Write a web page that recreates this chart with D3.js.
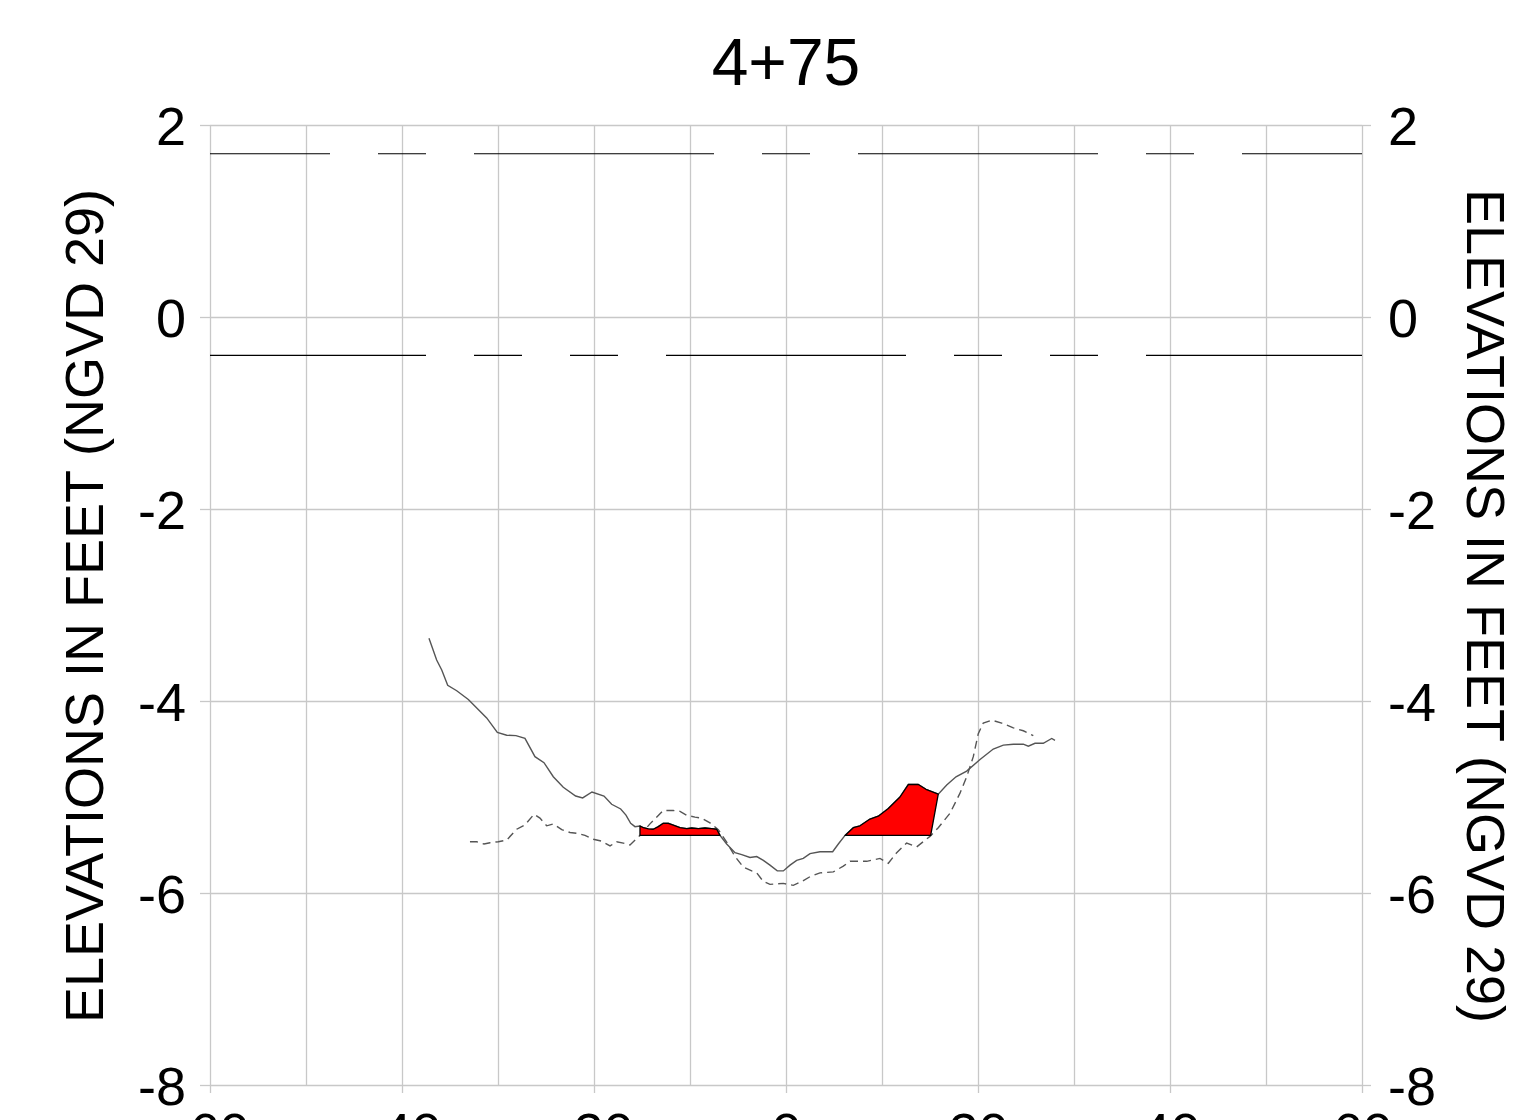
<!DOCTYPE html>
<html>
<head>
<meta charset="utf-8">
<script src="https://cdn.jsdelivr.net/npm/d3@7"></script>
<style>
  html, body { margin: 0; padding: 0; background: #fff; }
  svg { display: block; font-family: "Liberation Sans", Arial, sans-serif; }
</style>
</head>
<body>
<svg id="chart" width="1536" height="1120"></svg>
<script>
// ---- data ----
const titleText = "4+75";
const yTitle = "ELEVATIONS IN FEET (NGVD 29)";
const xTicks = [-60, -40, -20, 0, 20, 40, 60];
const xGrid = [-60, -50, -40, -30, -20, -10, 0, 10, 20, 30, 40, 50, 60];
const yTicks = [-8, -6, -4, -2, 0, 2];
const upperWaterLevel = 1.7;
const lowerWaterLevel = -0.4;
const templateGrade = -5.4;

// existing surface (solid)
const surveyX = [-37.19,-36.39,-35.86,-35.24,-34.30,-33.09,-31.18,-30.07,-29.09,-28.13,-27.19,-26.15,-25.21,-24.24,-23.20,-21.91,-21.18,-20.21,-18.96,-18.16,-17.22,-16.67,-16.18,-15.73,-15.21,-14.86,-14.34,-13.82,-13.30,-12.78,-12.26,-11.74,-11.04,-10.34,-9.82,-9.14,-8.44,-7.74,-7.22,-6.875,-6.18,-5.31,-4.61,-3.75,-3.05,-2.36,-1.67,-0.91,-0.28,0.42,1.11,1.80,2.50,3.54,4.86,5.45,6.15,7.01,7.71,8.75,9.61,10.66,11.875,12.74,13.78,14.58,15.86,16.74,17.71,18.82,20.21,21.59,22.64,23.68,24.72,25.24,25.94,26.80,27.68,28.02];
const surveyY = [-3.347,-3.573,-3.677,-3.836,-3.893,-3.984,-4.176,-4.328,-4.357,-4.361,-4.389,-4.580,-4.643,-4.789,-4.899,-4.990,-5.010,-4.948,-4.990,-5.076,-5.125,-5.188,-5.274,-5.309,-5.302,-5.320,-5.333,-5.336,-5.309,-5.274,-5.274,-5.292,-5.320,-5.330,-5.323,-5.330,-5.323,-5.330,-5.336,-5.40,-5.49,-5.58,-5.60,-5.63,-5.62,-5.66,-5.71,-5.77,-5.77,-5.71,-5.66,-5.64,-5.59,-5.57,-5.57,-5.49,-5.40,-5.32,-5.30,-5.23,-5.20,-5.12,-5.00,-4.87,-4.87,-4.92,-4.97,-4.875,-4.79,-4.73,-4.61,-4.50,-4.46,-4.45,-4.45,-4.47,-4.44,-4.44,-4.39,-4.41];

// previous surface (dashed)
const priorX = [-32.92,-32.22,-31.46,-30.83,-29.97,-29.09,-28.05,-27.19,-26.25,-25.63,-24.93,-24.24,-23.36,-22.50,-21.64,-20.94,-20.07,-19.20,-18.33,-17.64,-16.95,-16.25,-15.21,-14.17,-12.78,-11.74,-11.04,-10.34,-9.48,-8.78,-7.92,-7.05,-6.18,-5.31,-4.45,-3.57,-3.05,-2.36,-1.67,-0.28,0.76,1.64,2.50,3.54,4.93,5.97,6.67,8.41,9.79,10.66,11.53,12.57,13.61,15.00,15.86,17.08,18.125,18.82,19.51,20.03,20.55,21.43,22.47,23.68,24.72,25.76];
const priorY = [-5.466,-5.466,-5.49,-5.476,-5.466,-5.448,-5.336,-5.29,-5.18,-5.22,-5.30,-5.28,-5.34,-5.37,-5.38,-5.40,-5.44,-5.46,-5.51,-5.466,-5.48,-5.50,-5.40,-5.28,-5.14,-5.14,-5.15,-5.19,-5.21,-5.22,-5.27,-5.34,-5.47,-5.62,-5.73,-5.77,-5.79,-5.88,-5.91,-5.90,-5.92,-5.88,-5.83,-5.79,-5.78,-5.72,-5.67,-5.67,-5.64,-5.69,-5.58,-5.48,-5.52,-5.41,-5.32,-5.17,-4.96,-4.79,-4.58,-4.34,-4.23,-4.20,-4.23,-4.28,-4.31,-4.36];

// shoal areas above template grade: [start x, end x on surface, toe x at grade]
const shoalStart = [-15.21, 6.15];
const shoalEnd = [-6.875, 15.86];
const shoalToe = [-6.875, 15.07];

// ---- layout ----
const svg = d3.select("#chart");
const x = d3.scaleLinear().domain([-60, 60]).range([210, 1362]);
const y = d3.scaleLinear().domain([-8, 2]).range([1085, 125]);
const gridColor = "#c8c8c8";
const fontSize = 54;
const fmt = d => String(d);
const FONT = "Liberation Sans, Arial, sans-serif";

// vertical grid
const gx = svg.append("g").attr("transform", `translate(0,${y(-8)})`)
  .call(d3.axisBottom(x).tickValues(xGrid).tickSize(-(y(-8) - y(2))).tickFormat(""));
gx.select(".domain").remove();
gx.selectAll("line").attr("stroke", gridColor).attr("stroke-width", 1.3);

// horizontal grid
const gy = svg.append("g").attr("transform", `translate(${x(-60)},0)`)
  .call(d3.axisLeft(y).tickValues(yTicks).tickSize(-(x(60) - x(-60))).tickFormat(""));
gy.select(".domain").remove();
gy.selectAll("line").attr("stroke", gridColor).attr("stroke-width", 1.3);

// left axis labels
const la = svg.append("g").attr("transform", `translate(${x(-60)},0)`)
  .call(d3.axisLeft(y).tickValues(yTicks).tickSize(10).tickPadding(14).tickFormat(fmt));
la.select(".domain").remove();
la.selectAll("line").attr("stroke", gridColor).attr("stroke-width", 1.3);
la.selectAll("text").attr("font-size", fontSize).attr("fill", "#000").attr("dy", "0.37em")
  .attr("font-family", FONT);

// right axis labels
const ra = svg.append("g").attr("transform", `translate(${x(60)},0)`)
  .call(d3.axisRight(y).tickValues(yTicks).tickSize(9).tickPadding(17).tickFormat(fmt));
ra.select(".domain").remove();
ra.selectAll("line").attr("stroke", gridColor).attr("stroke-width", 1.3);
ra.selectAll("text").attr("font-size", fontSize).attr("fill", "#000").attr("dy", "0.37em")
  .attr("font-family", FONT);

// bottom axis labels
const ba = svg.append("g").attr("transform", `translate(0,${y(-8)})`)
  .call(d3.axisBottom(x).tickValues(xTicks).tickSize(8).tickPadding(20).tickFormat(fmt));
ba.select(".domain").remove();
ba.selectAll("line").attr("stroke", gridColor).attr("stroke-width", 1.3);
ba.selectAll("text").attr("font-size", fontSize).attr("fill", "#000")
  .attr("font-family", FONT);

// water level lines
svg.append("line")
  .attr("x1", x(-60)).attr("x2", x(60)).attr("y1", y(upperWaterLevel)).attr("y2", y(upperWaterLevel))
  .attr("stroke", "#000").attr("stroke-width", 1.1)
  .attr("stroke-dasharray", "240,48,48,48").attr("stroke-dashoffset", 120);
svg.append("line")
  .attr("x1", x(-60)).attr("x2", x(60)).attr("y1", y(lowerWaterLevel)).attr("y2", y(lowerWaterLevel))
  .attr("stroke", "#000").attr("stroke-width", 1.1)
  .attr("stroke-dasharray", "240,48,48,48,48,48").attr("stroke-dashoffset", 24);

const line = d3.line().x(d => x(d[0])).y(d => y(d[1]));
const survey = surveyX.map((v, i) => [v, surveyY[i]]);
const prior = priorX.map((v, i) => [v, priorY[i]]);

svg.append("path").datum(prior).attr("d", line)
  .attr("fill", "none").attr("stroke", "#555").attr("stroke-width", 1.4)
  .attr("stroke-dasharray", "8,5");
svg.append("path").datum(survey).attr("d", line)
  .attr("fill", "none").attr("stroke", "#555").attr("stroke-width", 1.4);

// shoal polygons
shoalStart.forEach((s, i) => {
  const pts = survey.filter(p => p[0] >= s - 1e-6 && p[0] <= shoalEnd[i] + 1e-6);
  pts.push([shoalToe[i], templateGrade]);
  pts.push([s, templateGrade]);
  svg.append("path").datum(pts).attr("d", d => line(d) + "Z")
    .attr("fill", "#ff0000").attr("stroke", "#000").attr("stroke-width", 1.3)
    .attr("stroke-linejoin", "round");
});

// titles
svg.append("text").attr("x", (x(-60) + x(60)) / 2).attr("y", 85)
  .attr("text-anchor", "middle").attr("font-size", 66).attr("fill", "#000").text(titleText);
svg.append("text").attr("transform", `translate(103,${(y(-8) + y(2)) / 2 + 1}) rotate(-90)`)
  .attr("text-anchor", "middle").attr("font-size", fontSize).attr("fill", "#000").text(yTitle);
svg.append("text").attr("transform", `translate(1467,${(y(-8) + y(2)) / 2 + 1}) rotate(90)`)
  .attr("text-anchor", "middle").attr("font-size", fontSize).attr("fill", "#000").text(yTitle);
</script>
</body>
</html>
